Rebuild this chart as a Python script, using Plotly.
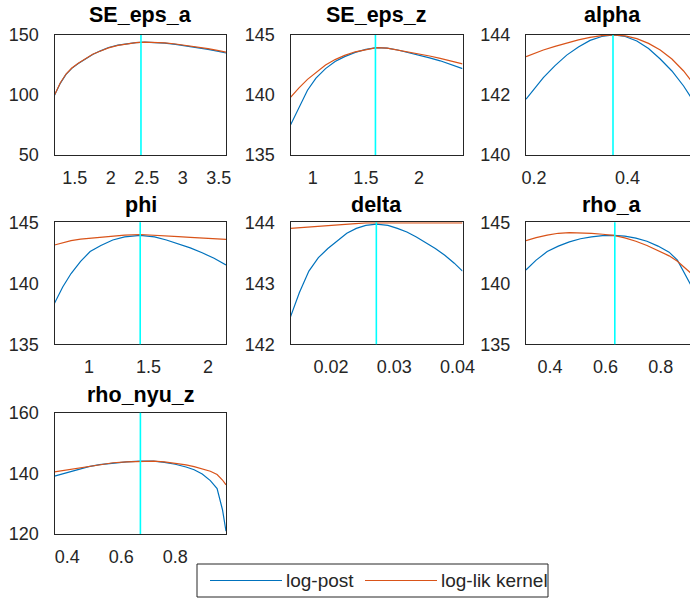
import plotly.graph_objects as go

W, H = 690, 598

titles = ["SE_eps_a", "SE_eps_z", "alpha", "phi", "delta", "rho_a", "rho_nyu_z"]

x_se_eps_a = [1.22, 1.30, 1.38, 1.46, 1.55, 1.65, 1.75, 1.85, 1.97, 2.10, 2.22, 2.35, 2.47, 2.60, 2.75, 2.90, 3.05, 3.20, 3.35, 3.48, 3.60]
lik_se_eps_a = [100, 110, 117.5, 122.5, 126.5, 130.5, 134, 136.5, 139.3, 141.3, 142.7, 143.6, 144, 143.9, 143.4, 142.5, 141.4, 140.1, 138.6, 137.2, 135.8]
post_se_eps_a = [99.7, 109.7, 117.2, 122.2, 126.2, 130.2, 133.8, 136.6, 139.6, 141.6, 142.9, 143.7, 144, 143.8, 143.2, 142.2, 141.0, 139.6, 138.0, 136.5, 135.0]

x_se_eps_z = [0.79, 0.87, 0.95, 1.03, 1.12, 1.21, 1.30, 1.40, 1.50, 1.60, 1.70, 1.80, 1.90, 2.00, 2.10, 2.20, 2.30, 2.41]
lik_se_eps_z = [139.8, 140.6, 141.3, 141.9, 142.5, 142.95, 143.3, 143.6, 143.8, 143.95, 143.9, 143.75, 143.6, 143.45, 143.25, 143.05, 142.85, 142.6]
post_se_eps_z = [137.5, 139.0, 140.4, 141.4, 142.2, 142.8, 143.2, 143.55, 143.8, 143.95, 143.9, 143.75, 143.55, 143.35, 143.1, 142.85, 142.55, 142.2]

x_alpha = [0.183, 0.20, 0.22, 0.245, 0.27, 0.295, 0.32, 0.345, 0.37, 0.395, 0.42, 0.445, 0.47, 0.495, 0.52, 0.545, 0.56]
lik_alpha = [143.28, 143.38, 143.5, 143.62, 143.74, 143.84, 143.92, 143.98, 144.0, 143.97, 143.88, 143.72, 143.5, 143.2, 142.8, 142.3, 142.0]
post_alpha = [141.86, 142.2, 142.58, 142.98, 143.33, 143.6, 143.82, 143.95, 144.0, 143.95, 143.8, 143.55, 143.2, 142.8, 142.3, 141.7, 141.3]

x_phi = [0.711, 0.78, 0.85, 0.93, 1.01, 1.10, 1.20, 1.30, 1.43, 1.55, 1.65, 1.75, 1.85, 1.95, 2.05, 2.15]
lik_phi = [143.14, 143.35, 143.5, 143.62, 143.7, 143.8, 143.9, 143.95, 144.0, 143.95, 143.88, 143.82, 143.76, 143.7, 143.65, 143.6]
post_phi = [138.36, 139.7, 140.8, 141.8, 142.6, 143.1, 143.55, 143.8, 143.93, 143.8, 143.55, 143.25, 142.9, 142.5, 142.05, 141.5]

x_delta = [0.01359, 0.0150, 0.0165, 0.0180, 0.0195, 0.0210, 0.0225, 0.0240, 0.0255, 0.0272, 0.0290, 0.0305, 0.0320, 0.0335, 0.0350, 0.0365, 0.0380, 0.0395, 0.0408]
lik_delta = [143.9, 143.91, 143.93, 143.94, 143.95, 143.96, 143.97, 143.98, 143.99, 143.99, 143.99, 143.99, 143.99, 143.99, 143.99, 143.99, 143.99, 143.99, 143.99]
post_delta = [142.45, 142.85, 143.2, 143.42, 143.57, 143.7, 143.82, 143.9, 143.95, 143.97, 143.95, 143.9, 143.84, 143.76, 143.67, 143.57, 143.46, 143.33, 143.2]

x_rho_a = [0.313, 0.35, 0.39, 0.43, 0.47, 0.51, 0.55, 0.59, 0.63, 0.67, 0.71, 0.75, 0.79, 0.83, 0.86, 0.89, 0.91, 0.93]
lik_rho_a = [143.5, 143.75, 143.95, 144.1, 144.15, 144.15, 144.1, 144.02, 143.93, 143.72, 143.45, 143.1, 142.7, 142.25, 141.8, 141.25, 140.8, 140.2]
post_rho_a = [141.09, 141.9, 142.6, 143.05, 143.4, 143.65, 143.8, 143.9, 143.93, 143.87, 143.7, 143.45, 143.05, 142.55, 141.9, 140.7, 139.8, 138.8]

x_rho_nyu_z = [0.353, 0.40, 0.44, 0.48, 0.52, 0.57, 0.62, 0.67, 0.72, 0.76, 0.80, 0.84, 0.87, 0.90, 0.93, 0.955, 0.975, 0.988]
lik_rho_nyu_z = [140.5, 141.2, 141.7, 142.4, 143.0, 143.5, 143.8, 144.0, 144.0, 143.8, 143.4, 142.8, 142.2, 141.5, 140.7, 139.6, 137.8, 136.2]
post_rho_nyu_z = [139.1, 140.3, 141.1, 142.2, 142.9, 143.4, 143.8, 144.0, 144.0, 143.6, 143.0, 142.1, 141.2, 139.8, 137.6, 135.0, 128.0, 120.9]

modes = [2.42, 1.59, 0.369, 1.43, 0.02717, 0.634, 0.671]

x_ranges = [[1.22, 3.6], [0.79, 2.41], [0.1829, 0.5337], [0.711, 2.15], [0.01359, 0.0408], [0.3134, 0.9054], [0.353, 0.988]]
y_ranges = [[50, 150], [135, 145], [140, 144], [135, 145], [142, 144], [135, 145], [120, 160]]
x_ticks = [[1.5, 2, 2.5, 3, 3.5], [1, 1.5, 2], [0.2, 0.4], [1, 1.5, 2], [0.02, 0.03, 0.04], [0.4, 0.6, 0.8], [0.4, 0.6, 0.8]]
x_ticklabels = [["1.5", "2", "2.5", "3", "3.5"], ["1", "1.5", "2"], ["0.2", "0.4"], ["1", "1.5", "2"], ["0.02", "0.03", "0.04"], ["0.4", "0.6", "0.8"], ["0.4", "0.6", "0.8"]]
y_ticks = [[50, 100, 150], [135, 140, 145], [140, 142, 144], [135, 140, 145], [142, 143, 144], [135, 140, 145], [120, 140, 160]]

xs = [x_se_eps_a, x_se_eps_z, x_alpha, x_phi, x_delta, x_rho_a, x_rho_nyu_z]
posts = [post_se_eps_a, post_se_eps_z, post_alpha, post_phi, post_delta, post_rho_a, post_rho_nyu_z]
liks = [lik_se_eps_a, lik_se_eps_z, lik_alpha, lik_phi, lik_delta, lik_rho_a, lik_rho_nyu_z]

legend_labels = ["log-post", "log-lik kernel"]

BLUE = "#0072BD"
ORANGE = "#D95319"
CYAN = "#00FFFF"
AX = "#262626"
FONT = "Liberation Sans, Arial, sans-serif"

# pixel layout
col_x = [(54.5, 226), (290.5, 462.5), (526, 690)]
row_y = [(35, 155), (222.3, 344.3), (412.7, 534)]
title_y = [15, 205, 395]

def px(x):
    return x / W

def py(y):
    return 1 - y / H

fig = go.Figure()
layout = {}
annotations = []
shapes = []

for i in range(7):
    r, c = divmod(i, 3)
    n = "" if i == 0 else str(i + 1)
    xa, ya = "x" + n, "y" + n
    x0, x1 = col_x[c]
    y0, y1 = row_y[r]
    right_open = (c == 2)
    layout["xaxis" + n] = dict(
        domain=[px(x0), min(px(x1), 1.0)], anchor=ya, range=x_ranges[i],
        tickvals=x_ticks[i], ticktext=x_ticklabels[i], showgrid=False, zeroline=False,
        showline=True, linecolor=AX, linewidth=1, mirror=True, ticks="",
        tickfont=dict(family=FONT, size=18, color=AX), ticklabelstandoff=6, automargin=False,
    )
    layout["yaxis" + n] = dict(
        domain=[py(y1), py(y0)], anchor=xa, range=y_ranges[i],
        tickvals=y_ticks[i], showgrid=False, zeroline=False,
        showline=True, linecolor=AX, linewidth=1, mirror=(not right_open), ticks="",
        tickfont=dict(family=FONT, size=18, color=AX), ticklabelstandoff=11, automargin=False,
    )
    fig.add_trace(go.Scatter(x=xs[i], y=posts[i], mode="lines", line=dict(color=BLUE, width=1.2),
                             xaxis=xa, yaxis=ya, showlegend=False, name=legend_labels[0]))
    fig.add_trace(go.Scatter(x=xs[i], y=liks[i], mode="lines", line=dict(color=ORANGE, width=1.2),
                             xaxis=xa, yaxis=ya, showlegend=False, name=legend_labels[1]))
    shapes.append(dict(type="line", xref=xa, yref=ya + " domain", x0=modes[i], x1=modes[i], y0=0, y1=1,
                       line=dict(color=CYAN, width=1.6)))
    annotations.append(dict(text="<b>" + titles[i] + "</b>", xref="paper", yref="paper",
                            x=px((x0 + (x0 + 172)) / 2), y=py(title_y[r]), xanchor="center", yanchor="middle",
                            showarrow=False, font=dict(family=FONT, size=21.5, color="black")))

# legend box
lx0, lx1, ly0, ly1 = 197, 548, 564, 597
ly = (ly0 + ly1) / 2
shapes.append(dict(type="rect", xref="paper", yref="paper", x0=px(lx0), x1=px(lx1), y0=py(ly1), y1=py(ly0),
                   line=dict(color=AX, width=1), fillcolor="white", layer="below"))
for (sx0, sx1, col, tx, lab) in [(210, 282, BLUE, 284, legend_labels[0]), (365, 437, ORANGE, 439, legend_labels[1])]:
    shapes.append(dict(type="line", xref="paper", yref="paper", x0=px(sx0), x1=px(sx1), y0=py(ly), y1=py(ly),
                       line=dict(color=col, width=1.2)))
    annotations.append(dict(text=lab, xref="paper", yref="paper", x=px(tx), y=py(ly), xanchor="left",
                            yanchor="middle", showarrow=False, font=dict(family=FONT, size=19, color=AX)))

fig.update_layout(
    width=W, height=H, margin=dict(l=0, r=0, t=0, b=0, autoexpand=False),
    paper_bgcolor="white", plot_bgcolor="white",
    annotations=annotations, shapes=shapes, showlegend=False,
    **layout,
)

fig.write_html("out.html")
